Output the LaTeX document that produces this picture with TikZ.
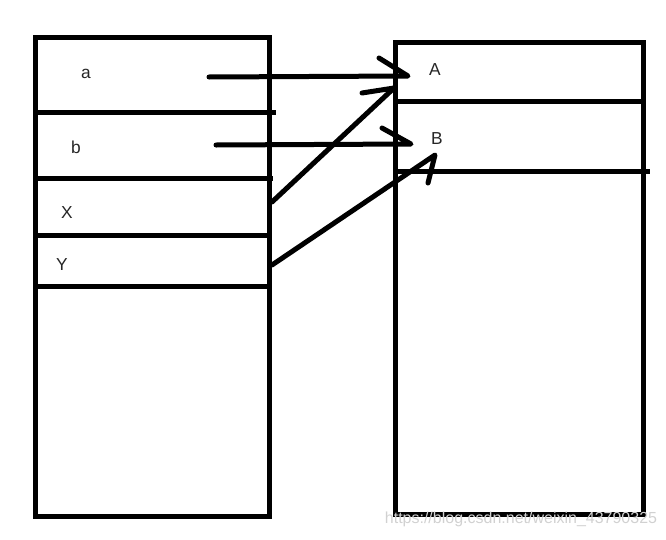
\documentclass[tikz,border=0pt]{standalone}
\usepackage{fontspec}
\setmainfont{Liberation Sans}
\begin{document}
\begin{tikzpicture}[x=0.75pt,y=-0.75pt,
  frame/.style={line width=3.75pt},
  stroke/.style={line width=3.75pt, line cap=round, line join=round},
  lbl/.style={font=\fontsize{13}{15}\selectfont, inner sep=0pt, text=black!85}]
\useasboundingbox (0,0) rectangle (666,539);
% left box
\draw[frame] (35,37) rectangle (269,516);
\draw[frame] (35,112) -- (276,112);
\draw[frame] (35,178) -- (273,178);
\draw[frame] (35,235) -- (269,235);
\draw[frame] (35,286) -- (272,286);
% right box
\draw[frame] (395,42) rectangle (643,514);
\draw[frame] (395,101) -- (643,101);
\draw[frame] (395,171) -- (650,171);
% labels
\node[lbl] (la) at (86,74) {a};
\node[lbl] (lb) at (76,147) {b};
\node[lbl] (lX) at (67,213) {X};
\node[lbl] (lY) at (62,265) {Y};
\node[lbl] (lA) at (435,70) {A};
\node[lbl] (lB) at (437,139) {B};
% arrow coordinates
\coordinate (a0) at (209,77); \coordinate (a1) at (408,76); \coordinate (a2) at (379,58);
\coordinate (x0) at (272,202); \coordinate (x1) at (394,88); \coordinate (x2) at (362,93);
\coordinate (b0) at (216,145); \coordinate (b1) at (411,144); \coordinate (b2) at (382,128);
\coordinate (y0) at (272,265); \coordinate (y1) at (435,155); \coordinate (y2) at (428,183);
\draw[stroke] (a0) -- (a1) -- (a2);
\draw[stroke] (x0) -- (x1) -- (x2);
\draw[stroke] (b0) -- (b1) -- (b2);
\draw[stroke] (y0) -- (y1) -- (y2);
% watermark
\node[font=\fontsize{12}{14}\selectfont, text=black!18, inner sep=0pt] (wm) at (521,519) {https://blog.csdn.net/weixin\_43790325};
\end{tikzpicture}
\end{document}
